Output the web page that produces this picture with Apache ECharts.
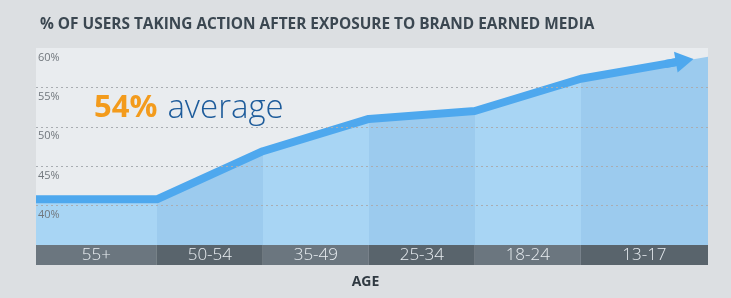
<!DOCTYPE html>
<html>
<head>
<meta charset="utf-8">
<script src="https://cdn.jsdelivr.net/npm/echarts@6/dist/echarts.min.js"></script>
<style>
  html, body { margin: 0; padding: 0; background: #dcdfe2; }
  #main { width: 731px; height: 298px; }
</style>
</head>
<body>
<div id="main"></div>
<script>
// age bands, left to right
var ageGroups = ['55+', '50-54', '35-49', '25-34', '18-24', '13-17'];
// band edges on the x axis (one unit = one middle band)
var bandEdges = [-1.14, 0, 1, 2, 3, 4, 5.2];
// % of users at each band edge (filled area)
var areaPct = [40.8, 40.8, 46.9, 51.0, 52.0, 56.1, 58.9];
// trend arrow, ends a bit before the right edge
var trendX = [-1.14, 0, 1, 2, 3, 4, 4.98];
var trendPct = [40.8, 40.8, 46.9, 51.0, 52.0, 56.1, 58.4];
// y axis ticks
var yTicks = [35, 40, 45, 50, 55, 60];

var FONT = '"Open Sans", sans-serif';
var xMin = bandEdges[0], xMax = bandEdges[bandEdges.length - 1];

function zip(xs, ys) {
    return xs.map(function (x, i) { return [x, ys[i]]; });
}

// hard colour stops so the area is shaded band by band
var areaStops = [];
var stripAreas = [];
for (var i = 0; i < ageGroups.length; i++) {
    var s = (bandEdges[i] - xMin) / (xMax - xMin);
    var e = (bandEdges[i + 1] - xMin) / (xMax - xMin);
    var c = i % 2 ? '#9ccbee' : '#a8d5f4';
    areaStops.push({offset: s, color: c}, {offset: e, color: c});
    stripAreas.push([
        {name: ageGroups[i], xAxis: bandEdges[i], itemStyle: {color: i % 2 ? '#59646c' : '#6b767f'}},
        {xAxis: bandEdges[i + 1]}
    ]);
}

var myChart = echarts.init(document.getElementById('main'));

var option = {
    backgroundColor: '#dcdfe2',
    animation: false,
    title: {
        text: '% OF USERS TAKING ACTION AFTER EXPOSURE TO BRAND EARNED MEDIA',
        left: 35,
        top: 12,
        textStyle: {fontFamily: FONT, fontSize: 15.4, fontWeight: 'bold', color: '#3b4751'}
    },
    grid: [
        {left: 36, right: 23, top: 48, height: 197, show: true, backgroundColor: '#e9ecef', borderWidth: 0},
        {left: 36, right: 23, top: 245, height: 20, show: false}
    ],
    xAxis: [
        {type: 'value', gridIndex: 0, min: xMin, max: xMax, show: false},
        {type: 'value', gridIndex: 1, min: xMin, max: xMax, show: false}
    ],
    yAxis: [
        {
            type: 'value', gridIndex: 0,
            min: yTicks[0], max: yTicks[yTicks.length - 1], interval: 5,
            axisLine: {show: false}, axisTick: {show: false},
            axisLabel: {
                inside: true, margin: 2, showMinLabel: false,
                formatter: '{value}%', verticalAlign: 'top', padding: [4, 0, 0, 0],
                color: '#71777d', fontFamily: FONT, fontSize: 11
            },
            splitLine: {
                lineStyle: {
                    type: [2, 3], width: 1,
                    color: ['transparent', '#a9adb2', '#a9adb2', '#a9adb2', '#a9adb2', 'transparent']
                }
            },
            z: 5
        },
        {type: 'value', gridIndex: 1, min: 0, max: 1, show: false}
    ],
    graphic: [
        {
            type: 'text', left: 94, top: 92,
            style: {
                text: '{a|54%}{s| }{b|average}',
                rich: {
                    a: {fontFamily: FONT, fontSize: 31, fontWeight: 'bold', fill: '#f39b1c'},
                    s: {width: 10, fontSize: 10},
                    b: {fontFamily: FONT, fontSize: 33, fontWeight: 300, fill: '#1e5c9b'}
                }
            },
            z: 10
        },
        {
            type: 'text', left: 'center', top: 275,
            style: {text: 'AGE', fontFamily: FONT, fontSize: 14, fontWeight: 'bold', fill: '#303a42'}
        }
    ],
    series: [
        {
            type: 'line', xAxisIndex: 0, yAxisIndex: 0,
            data: zip(bandEdges, areaPct),
            symbol: 'none', silent: true,
            lineStyle: {width: 0},
            areaStyle: {opacity: 1, color: new echarts.graphic.LinearGradient(0, 0, 1, 0, areaStops)},
            z: 1
        },
        {
            type: 'line', xAxisIndex: 0, yAxisIndex: 0,
            data: zip(trendX, trendPct),
            symbol: 'none', silent: true,
            lineStyle: {width: 8, color: '#4ea8ee', cap: 'butt'},
            markLine: {
                silent: true,
                symbol: ['none', 'triangle'],
                symbolSize: [21, 18],
                label: {show: false},
                lineStyle: {type: 'solid', width: 8, color: '#4ea8ee'},
                data: [[
                    {coord: [trendX[5] + 0.8, trendPct[5] + (trendPct[6] - trendPct[5]) * 0.8 / (trendX[6] - trendX[5])]},
                    {coord: [trendX[6], trendPct[6]]}
                ]]
            },
            z: 3
        },
        {
            type: 'scatter', xAxisIndex: 1, yAxisIndex: 1,
            data: [],
            markArea: {
                silent: true,
                label: {
                    show: true, position: 'inside',
                    color: '#e8edf1', fontFamily: FONT, fontSize: 17, fontWeight: 300
                },
                data: stripAreas
            }
        }
    ]
};

myChart.setOption(option);
</script>
</body>
</html>
